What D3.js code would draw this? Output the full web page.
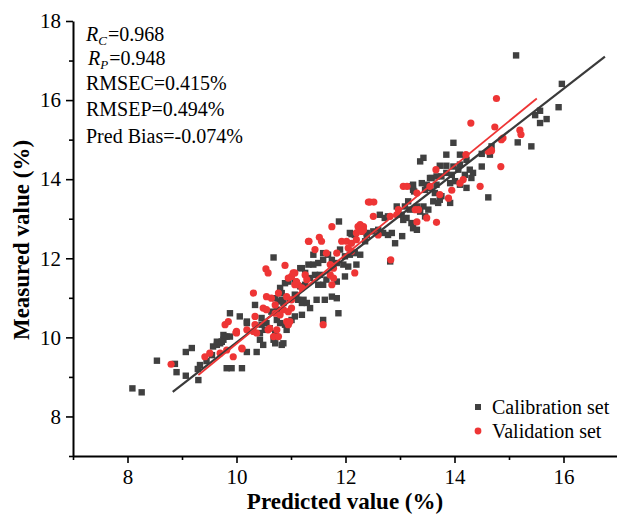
<!DOCTYPE html>
<html><head><meta charset="utf-8">
<script src="https://cdn.jsdelivr.net/npm/d3@7"></script>
<style>body{margin:0;background:#fff}svg{display:block}svg text{font-family:"Liberation Serif","Times New Roman",serif}</style>
</head><body><svg id="c" width="617" height="515"></svg>
<script>
const xTicks=[8,10,12,14,16];
const xMinor=[7,9,11,13,15,17];
const yTicks=[8,10,12,14,16,18];
const yMinor=[7,9,11,13,15,17];
const xDomain=[7,17];
const yDomain=[7,18];
const xTitle="Predicted value (%)";
const yTitle="Measured value (%)";
const legendLabels=["Calibration set","Validation set"];
const statsText=[["R","C","=0.968"],["R","P","=0.948"],["RMSEC=0.415%"],["RMSEP=0.494%"],["Pred Bias=-0.074%"]];
const fitCal=[[8.83,8.62],[16.76,17.1]];
const fitVal=[[9.3,9.05],[15.51,16.04]];
const calibration=[
[8.09,8.71],[8.26,8.61],[8.54,9.41],[8.87,9.33],[8.90,9.12],[9.07,9.03],[9.30,8.92],[9.07,9.63],[9.18,9.73],[9.33,9.30],[9.29,9.20],[9.64,9.81],[9.73,9.89],[9.79,10.02],[9.88,10.02],[9.88,10.61],[9.82,9.22],[9.91,9.22],[10.10,9.22],[10.19,9.63],[10.37,9.63],[9.57,9.77],[9.70,9.85],[9.76,9.94],[9.45,9.40],[9.55,9.55],[10.06,10.53],[10.19,10.40],[10.68,9.94],[10.83,9.81],
[10.68,12.02],[11.20,11.75],[10.95,11.41],[11.07,11.41],[11.26,11.33],[10.80,11.25],[10.83,11.12],[10.71,10.99],[10.77,10.91],[10.83,10.95],[11.07,11.08],[11.13,10.95],[11.20,10.87],[10.34,10.82],[10.64,10.65],[10.74,10.70],[10.19,10.36],[10.46,10.49],[10.55,10.36],[10.46,10.32],[10.74,10.44],[10.80,10.36],[10.95,10.36],[11.01,10.44],[11.07,10.53],[11.20,10.57],[9.76,10.06],[9.82,10.02],[9.64,9.89],[9.73,9.89],[10.89,10.32],[10.92,10.19],[10.86,9.85],[10.43,10.11],[10.52,10.19],[10.61,10.23],[10.71,10.11],[10.43,9.94],[10.49,9.81],[10.71,9.85],
[11.59,10.44],[11.87,10.61],[10.86,10.87],[10.98,10.95],[11.29,10.87],[11.35,10.74],[11.10,11.03],[11.23,10.95],[11.47,10.95],[11.62,10.95],[11.75,11.03],[11.84,10.99],
[11.88,12.93],[12.11,12.61],[12.39,12.59],[12.36,12.43],[11.41,12.09],[11.59,12.13],[11.68,12.09],[11.90,12.22],[11.99,12.05],[12.08,12.09],[12.17,12.13],[12.27,12.09],[11.17,11.75],[11.32,11.84],[11.41,11.84],[11.50,11.88],[11.59,11.96],[11.75,11.96],[11.84,11.88],[11.96,11.84],[12.05,11.79],[12.20,11.84],[11.99,11.54],[11.26,11.63],[11.35,11.50],[11.44,11.58],[11.53,11.58],[11.65,11.46],[10.89,11.37],[11.10,11.37],[11.17,11.29],[11.50,11.33],[11.59,11.33],[11.84,11.41],[12.82,11.92],[12.91,12.38],[13.04,12.56],
[13.37,14.45],[13.43,14.54],[13.58,14.03],[13.67,14.07],[13.24,13.86],[13.24,13.73],[13.46,13.73],[13.49,13.86],[13.67,13.86],[13.64,13.65],[13.61,13.44],[13.52,13.23],[13.46,13.06],[13.70,13.40],[12.94,13.31],[13.09,13.31],[13.15,13.44],[13.18,13.23],[13.31,13.31],[13.37,13.18],[13.43,13.31],[12.63,13.10],[12.72,13.02],[12.78,13.06],[13.03,13.10],[13.06,12.97],[13.12,13.02],[13.21,12.89],[13.24,12.76],[13.31,12.72],[12.08,12.64],[12.17,12.59],[12.39,12.64],[12.51,12.68],[12.60,12.72],[12.69,12.64],[12.78,12.59],[12.85,12.64],[13.73,13.48],[13.92,13.40],
[14.68,14.83],[14.50,14.64],[14.65,14.62],[13.98,14.92],[13.85,14.62],[14.10,14.62],[14.22,14.49],[14.50,14.32],[13.73,14.34],[13.85,14.34],[13.98,14.32],[14.10,14.37],[14.28,14.24],[14.34,14.16],[13.85,14.16],[13.95,14.11],[14.07,14.24],[14.19,14.11],[14.31,14.03],[13.55,14.03],[13.76,14.07],[13.92,13.90],[14.01,13.95],[14.10,13.86],[14.22,13.78],[13.40,13.90],[13.55,13.78],[13.22,13.82],[13.26,13.69],[14.62,13.54],[13.76,13.57],
[15.13,17.13],[15.97,16.41],[15.91,15.82],[15.57,15.73],[15.48,15.62],[15.69,15.52],[15.57,15.42],[15.16,14.93],[15.41,14.83]
];
const validation=[
[8.80,9.32],[9.42,9.51],[9.51,9.60],[9.70,9.60],[9.82,9.68],[9.94,9.51],[10.10,9.71],[9.79,10.32],[9.85,10.40],[9.99,10.12],[10.31,11.12],[10.00,10.11],[10.10,9.73],[11.32,12.43],[10.54,11.73],[10.58,11.63],[10.89,11.82],[11.01,11.54],[11.07,11.63],[11.26,11.58],[11.29,11.46],[11.13,11.33],[11.20,11.25],[10.77,11.12],[10.55,11.03],[10.64,10.99],[10.92,11.03],[11.01,10.95],[10.71,10.82],[10.49,10.74],[10.55,10.70],[10.86,10.70],[10.95,10.65],[11.01,10.74],[10.71,10.61],[10.80,10.57],[10.34,10.53],[10.92,10.40],[10.00,10.15],[10.19,10.19],[10.31,10.15],[10.37,10.11],[10.58,10.19],[10.74,10.19],[10.68,10.02],[10.77,10.02],[10.34,10.32],[10.61,10.23],[10.95,10.32],[10.98,10.40],[11.59,10.32],
[12.42,13.42],[11.75,12.80],[12.23,12.80],[12.33,12.80],[12.27,12.72],[11.52,12.53],[11.56,12.43],[11.33,12.43],[11.93,12.43],[12.02,12.43],[12.11,12.38],[12.20,12.47],[11.44,12.22],[11.65,12.13],[11.84,12.13],[12.05,12.26],[12.11,12.18],[11.72,11.84],[11.78,11.75],[12.17,11.63],[11.04,11.63],[10.95,11.50],[11.72,11.58],[11.78,11.50],[11.75,11.33],[11.07,11.33],[11.10,11.41],[12.83,11.96],
[13.66,14.24],[13.55,13.82],[13.06,13.82],[13.13,13.82],[12.45,13.42],[12.52,13.42],[12.97,13.23],[13.28,13.23],[13.49,13.02],[13.31,12.92],[13.67,12.91],[12.51,13.06],[12.82,13.06],[12.94,13.10],[12.27,12.85],[12.33,12.72],[12.20,12.64],[12.30,12.68],[12.60,12.59],[13.31,13.65],[13.34,13.23],
[14.77,16.04],[14.30,15.42],[14.74,15.32],[14.86,15.00],[14.89,15.04],[14.62,14.70],[14.68,14.72],[14.21,14.62],[14.85,14.32],[14.16,13.99],[14.10,13.90],[14.47,13.82],[13.95,13.72],[13.73,13.61],[13.89,13.52],[15.20,15.24],[15.22,15.13],[14.65,14.76]
];

const svg=d3.select("#c");
const W=617,H=515;
const m={left:73,right:-1,top:21,bottom:59};
const x=d3.scaleLinear().domain(xDomain).range([m.left,W-m.right]);
const y=d3.scaleLinear().domain(yDomain).range([H-m.bottom,m.top]);
const serif="'Liberation Serif','Times New Roman',serif";
const gray="#404040", red="#ee3535";

svg.append("g").selectAll("rect").data(calibration).join("rect")
 .attr("x",d=>x(d[0])-3.2).attr("y",d=>y(d[1])-3.2).attr("width",6.4).attr("height",6.4).attr("fill",gray);
svg.append("g").selectAll("circle").data(validation).join("circle")
 .attr("cx",d=>x(d[0])).attr("cy",d=>y(d[1])).attr("r",3.6).attr("fill",red);
const line=d3.line().x(d=>x(d[0])).y(d=>y(d[1]));
svg.append("path").datum(fitCal).attr("d",line).attr("stroke","#3a3a3a").attr("stroke-width",2.2).attr("fill","none");
svg.append("path").datum(fitVal).attr("d",line).attr("stroke",red).attr("stroke-width",1.8).attr("fill","none");

function styleAxis(g){g.attr("font-family",serif);
 g.select(".domain").attr("stroke","#000").attr("stroke-width",2);
 g.selectAll(".tick line").attr("stroke","#000").attr("stroke-width",1.6);
 g.selectAll(".tick text").style("font-family",serif).attr("font-size",21).attr("fill","#000");}
const gx=svg.append("g").attr("transform",`translate(0,${H-m.bottom})`)
 .call(d3.axisBottom(x).tickValues(xTicks).tickSize(7).tickSizeOuter(0).tickPadding(6).tickFormat(d3.format("d")));
styleAxis(gx);
const gxm=svg.append("g").attr("transform",`translate(0,${H-m.bottom})`)
 .call(d3.axisBottom(x).tickValues(xMinor).tickSize(4).tickSizeOuter(0).tickFormat(""));
styleAxis(gxm); gxm.select(".domain").remove();
const gy=svg.append("g").attr("transform",`translate(${m.left},0)`)
 .call(d3.axisLeft(y).tickValues(yTicks).tickSize(7).tickSizeOuter(0).tickPadding(5).tickFormat(d3.format("d")));
styleAxis(gy);
const gym=svg.append("g").attr("transform",`translate(${m.left},0)`)
 .call(d3.axisLeft(y).tickValues(yMinor).tickSize(4).tickSizeOuter(0).tickFormat(""));
styleAxis(gym); gym.select(".domain").remove();

svg.append("text").attr("x",345).attr("y",509).attr("text-anchor","middle")
 .style("font-family",serif).attr("font-weight","bold").attr("font-size",23).text(xTitle);
svg.append("text").attr("transform","translate(29,240) rotate(-90)").attr("text-anchor","middle")
 .style("font-family",serif).attr("font-weight","bold").attr("font-size",23).text(yTitle);

const statY=[41,65,90,116,143];
statsText.forEach((s,i)=>{
 const t=svg.append("text").attr("x",i==1?88:86).attr("y",statY[i]).style("font-family",serif).attr("font-size",20).attr("fill","#000");
 if(s.length===3){
  t.append("tspan").attr("font-style","italic").text(s[0]);
  t.append("tspan").attr("font-style","italic").attr("font-size",13).attr("dy",4).text(s[1]);
  t.append("tspan").attr("dy",-4).attr("dx",1).text(s[2]);
 } else t.text(s[0]);
});

const lg=svg.append("g");
lg.append("rect").attr("x",475).attr("y",404).attr("width",6).attr("height",6).attr("fill",gray);
lg.append("circle").attr("cx",478).attr("cy",431).attr("r",3.4).attr("fill",red);
legendLabels.forEach((l,i)=>lg.append("text").attr("x",492).attr("y",414+i*24).style("font-family",serif).attr("font-size",20).attr("fill","#000").text(l));
</script></body></html>
